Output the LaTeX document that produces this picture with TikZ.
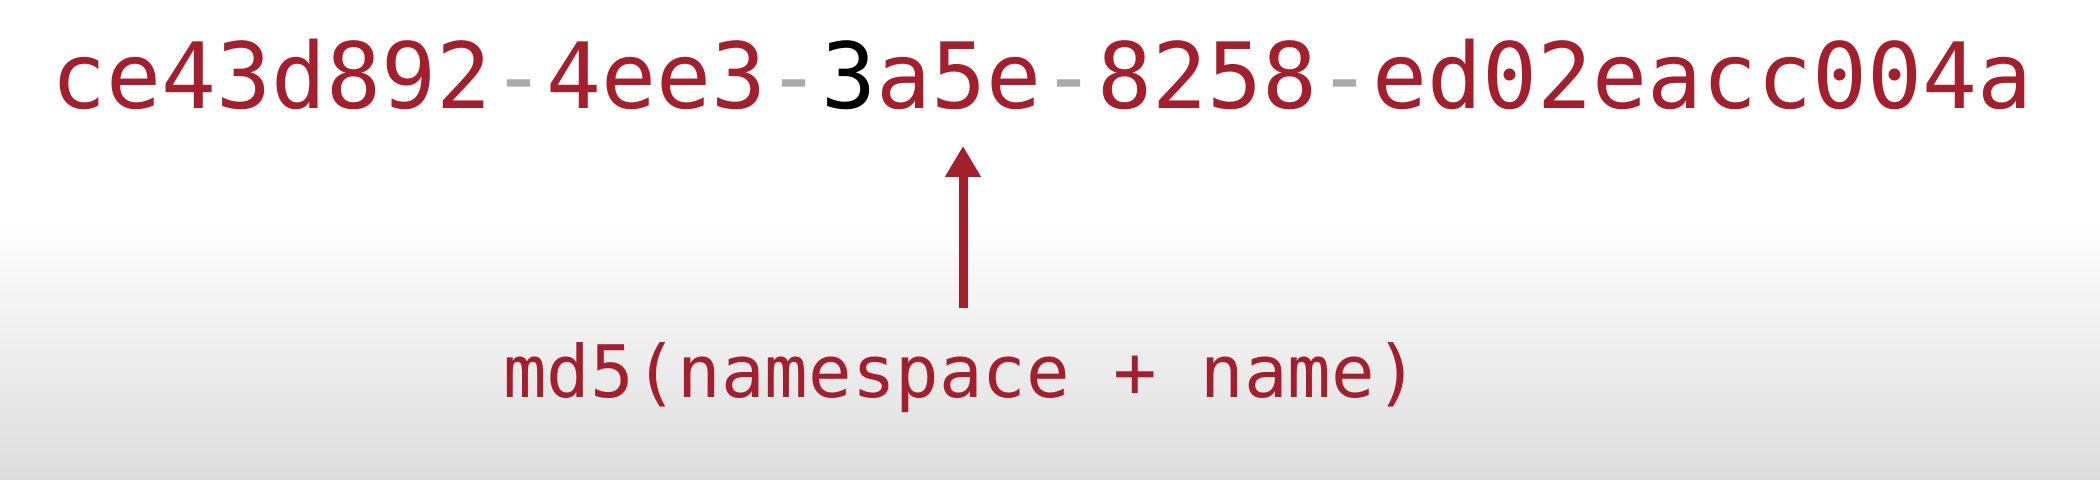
\documentclass[tikz,border=0pt]{standalone}
\usepackage{fontspec}
\newfontfamily\uuidmono{DejaVu Sans Mono}
\usetikzlibrary{arrows.meta}
\definecolor{uuidred}{RGB}{163,31,45}
\definecolor{dashgray}{RGB}{170,170,170}
\definecolor{bggray}{RGB}{221,221,221}
\begin{document}
\begin{tikzpicture}[x=0.5pt,y=-0.5pt,
  uuidtext/.style={anchor=base,inner sep=0pt,font=\uuidmono\fontsize{45.7}{50}\selectfont,text=uuidred},
  labeltext/.style={anchor=base,inner sep=0pt,font=\uuidmono\fontsize{36.2}{40}\selectfont,text=uuidred},
  uparrow/.style={draw=uuidred,line width=4.5pt,-{Triangle[width=17pt,length=15.5pt]}}]
  \useasboundingbox (0,0) rectangle (2100,480);
  \fill[white] (0,0) rectangle (2100,220);
  \shade[top color=white,bottom color=bggray] (0,219) rectangle (2100,480);
  \node[uuidtext] (uuid) at (1042,109)
    {ce43d892{\color{dashgray}-}4ee3{\color{dashgray}-}{\color{black}3}a5e{\color{dashgray}-}8258{\color{dashgray}-}ed02eacc004a};
  \node[labeltext] (label) at (961,398) {md5(namespace + name)};
  \coordinate (tip) at (963,146);
  \coordinate (tail) at (963,308);
  \draw[uparrow] (tail) -- (tip);
\end{tikzpicture}
\end{document}
